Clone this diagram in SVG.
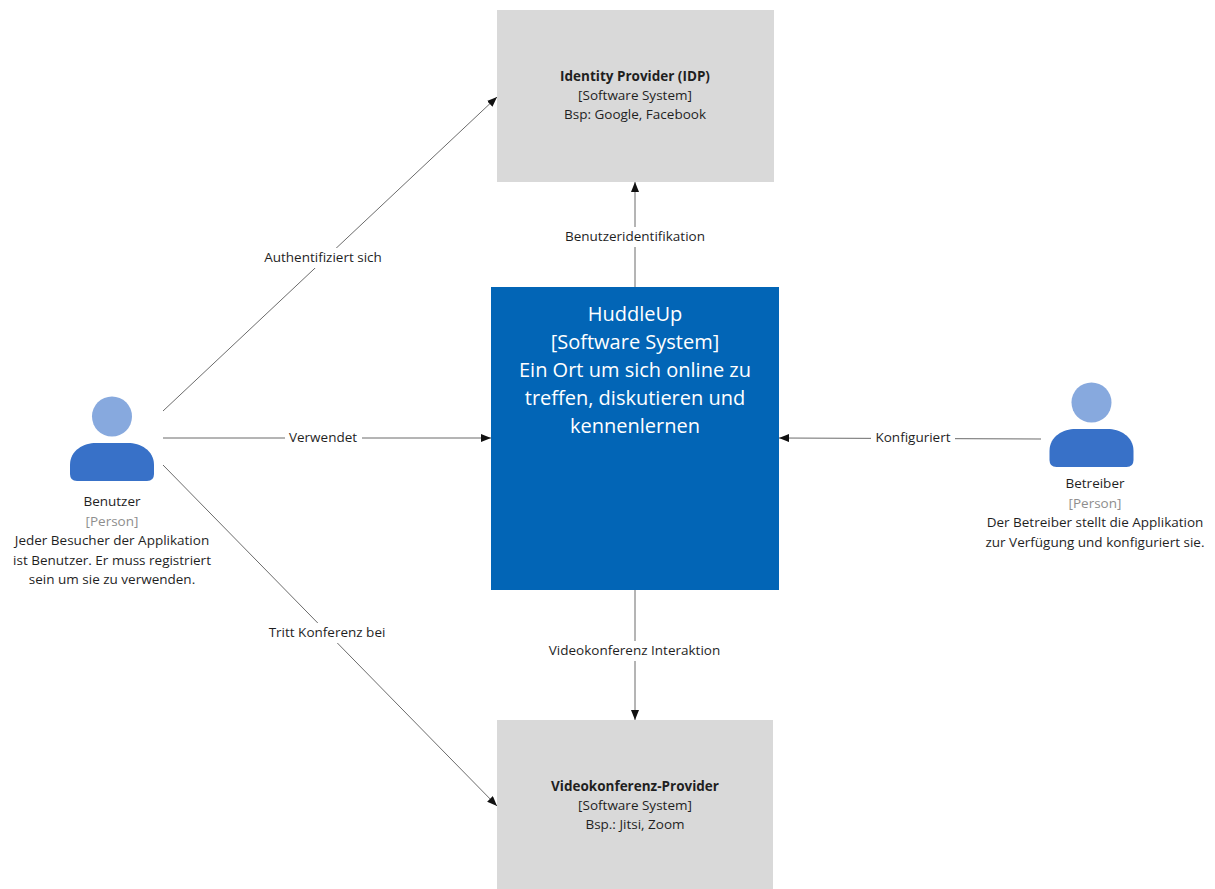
<svg xmlns="http://www.w3.org/2000/svg" width="1215" height="889" viewBox="0 0 1215 889">
<style>
text{font-family:"Open Sans","Noto Sans","DejaVu Sans",sans-serif;font-size:13.5px;fill:#1f1f1f;text-anchor:middle}
.b{font-weight:700}
.g{fill:#8e8e8e}
.w{fill:#fff;font-size:20px}
.box{fill:#d9d9d9}
.head{fill:#87a9de}
.body{fill:#3871c8}
.c{fill:none;stroke:#6b6b6b;stroke-width:1;marker-end:url(#a)}
.l{fill:none;stroke:#6b6b6b;stroke-width:1}
.bg{fill:#fff}
</style>
<defs>
<marker id="a" markerUnits="userSpaceOnUse" viewBox="0 0 10 8" refX="10" refY="4" markerWidth="10" markerHeight="8" orient="auto"><path d="M0 0L10 4L0 8z" fill="#111"/></marker>
<path id="p" d="M0 46C0 31 14 24 26 24H58C70 24 84 31 84 46V55Q84 62 77 62H7Q0 62 0 55Z"/>
</defs>
<rect width="1215" height="889" fill="#fff"/>
<g id="connectors">
<path class="c" d="M163 411L497 97"/>
<path class="c" d="M163 438H491"/>
<path class="c" d="M163 465L497 806"/>
<path class="c" d="M635 287V182"/>
<path class="c" d="M635 590V720"/>
<path class="c" d="M1041 439L779 438"/>
<rect class="bg" x="259" y="248" width="129" height="20"/>
<rect class="bg" x="285" y="428" width="77" height="20"/>
<rect class="bg" x="264" y="623" width="127" height="20"/>
<rect class="bg" x="560" y="227" width="150" height="20"/>
<rect class="bg" x="543" y="641" width="183" height="20"/>
<rect class="bg" x="871" y="428" width="84" height="20"/>
<text x="323" y="262">Authentifiziert sich</text>
<text x="323" y="442">Verwendet</text>
<text x="327" y="637">Tritt Konferenz bei</text>
<text x="635" y="241">Benutzeridentifikation</text>
<text x="634.500" y="655">Videokonferenz Interaktion</text>
<text x="913" y="442">Konfiguriert</text>
</g>
<g id="idp">
<rect class="box" x="497" y="10" width="277" height="172"/>
<text class="b" x="635" y="81">Identity Provider (IDP)</text>
<text x="635" y="100">[Software System]</text>
<text x="635" y="119">Bsp: Google, Facebook</text>
</g>
<g id="huddleup">
<rect x="491" y="287" width="288" height="303" fill="#0265b6"/>
<text class="w" x="635" y="321">HuddleUp</text>
<text class="w" x="635" y="349">[Software System]</text>
<text class="w" x="635" y="377">Ein Ort um sich online zu</text>
<text class="w" x="635" y="405">treffen, diskutieren und</text>
<text class="w" x="635" y="433">kennenlernen</text>
</g>
<g id="video">
<rect class="box" x="497" y="720" width="276" height="169"/>
<text class="b" x="635" y="791">Videokonferenz-Provider</text>
<text x="635" y="810">[Software System]</text>
<text x="635" y="829">Bsp.: Jitsi, Zoom</text>
</g>
<g id="benutzer">
<circle class="head" cx="112" cy="416.500" r="20"/>
<use href="#p" class="body" x="70" y="419"/>
<text x="112" y="506">Benutzer</text>
<text class="g" x="112" y="526">[Person]</text>
<text x="112" y="545">Jeder Besucher der Applikation</text>
<text x="112" y="565">ist Benutzer. Er muss registriert</text>
<text x="112" y="584">sein um sie zu verwenden.</text>
</g>
<g id="betreiber">
<circle class="head" cx="1091.500" cy="402.500" r="20"/>
<use href="#p" class="body" x="1049.500" y="405"/>
<text x="1095" y="488">Betreiber</text>
<text class="g" x="1095" y="508">[Person]</text>
<text x="1095" y="527">Der Betreiber stellt die Applikation</text>
<text x="1095" y="547">zur Verfügung und konfiguriert sie.</text>
</g>
</svg>
